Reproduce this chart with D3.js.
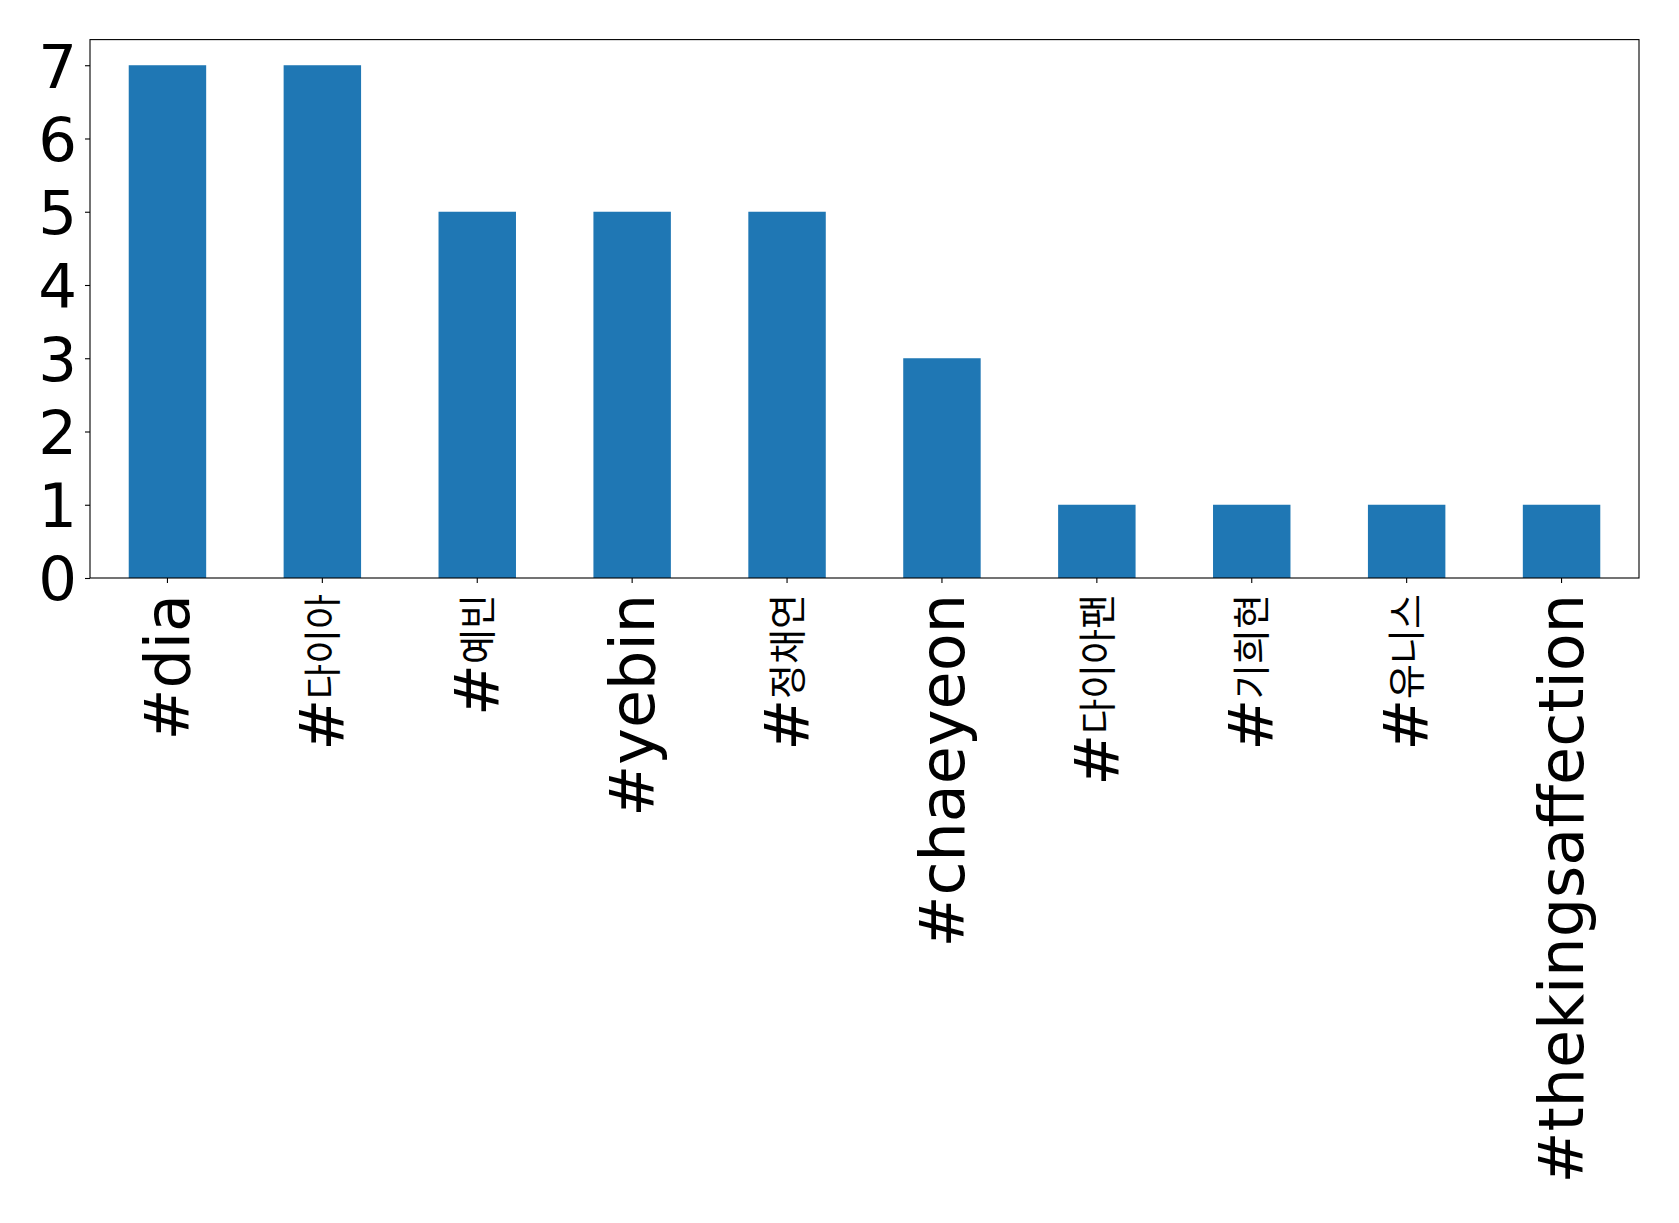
<!DOCTYPE html>
<html><head><meta charset="utf-8">
<script src="https://cdn.jsdelivr.net/npm/d3@7"></script>
<style>
html,body{margin:0;padding:0;background:#fff;}
text{font-family:"DejaVu Sans","Noto Sans CJK KR",sans-serif;}
</style></head>
<body><svg id="chart" width="1679" height="1223"></svg>
<script>
const categories = ["#dia","#다이아","#예빈","#yebin","#정채연","#chaeyeon","#다이아팬","#기희현","#유니스","#thekingsaffection"];
const values = [7,7,5,5,5,3,1,1,1,1];
const yTicks = [0,1,2,3,4,5,6,7];

const m = {left: 90, top: 39.6};
const pw = 1549, ph = 538.4;
const svg = d3.select("#chart");
const g = svg.append("g").attr("transform", `translate(${m.left},${m.top})`);

const x = d3.scaleBand().domain(categories).range([0, pw]).paddingInner(0.5).paddingOuter(0.25);
const y = d3.scaleLinear().domain([0, 7.35]).range([ph, 0]);

g.selectAll("rect.bar").data(values).join("rect")
  .attr("class","bar")
  .attr("x",(d,i)=>x(categories[i]))
  .attr("y",d=>y(d))
  .attr("width",x.bandwidth())
  .attr("height",d=>y(0)-y(d))
  .attr("fill","#1f77b4");

// y axis
const ya = g.append("g").call(d3.axisLeft(y).tickValues(yTicks).tickFormat(d3.format("d")).tickSize(5).tickPadding(8));
ya.select(".domain").remove();
ya.selectAll("line").attr("stroke","#000").attr("stroke-width",1.1);
ya.selectAll("text").attr("font-size","61px").attr("fill","#000").attr("dy","0.36em");

// x axis
const xa = g.append("g").attr("transform",`translate(0,${ph})`)
  .call(d3.axisBottom(x).tickSize(5).tickFormat(""));
xa.select(".domain").remove();
xa.selectAll("line").attr("stroke","#000").attr("stroke-width",1.1);

const isHangul = ch => /[\uAC00-\uD7A3]/.test(ch);
categories.forEach((c)=>{
  const cx = x(c) + x.bandwidth()/2;
  const t = g.append("text")
    .attr("transform",`translate(${cx},${ph+16}) rotate(-90)`)
    .attr("text-anchor","end")
    .attr("dy","0.35em")
    .attr("font-size","62px")
    .attr("fill","#000");
  let runs = [];
  for (const ch of c) {
    const h = isHangul(ch);
    if (runs.length && runs[runs.length-1].h === h) runs[runs.length-1].s += ch;
    else runs.push({h, s: ch});
  }
  let shifted = false;
  runs.forEach(r=>{
    const ts = t.append("tspan").text(r.s);
    if (r.h) { ts.attr("font-size","38px").attr("dy", -8); shifted = true; }
    else if (shifted) { ts.attr("dy", 8); shifted = false; }
  });
});

// frame
g.append("rect").attr("x",0).attr("y",0).attr("width",pw).attr("height",ph)
  .attr("fill","none").attr("stroke","#000").attr("stroke-width",1.1);
</script></body></html>
